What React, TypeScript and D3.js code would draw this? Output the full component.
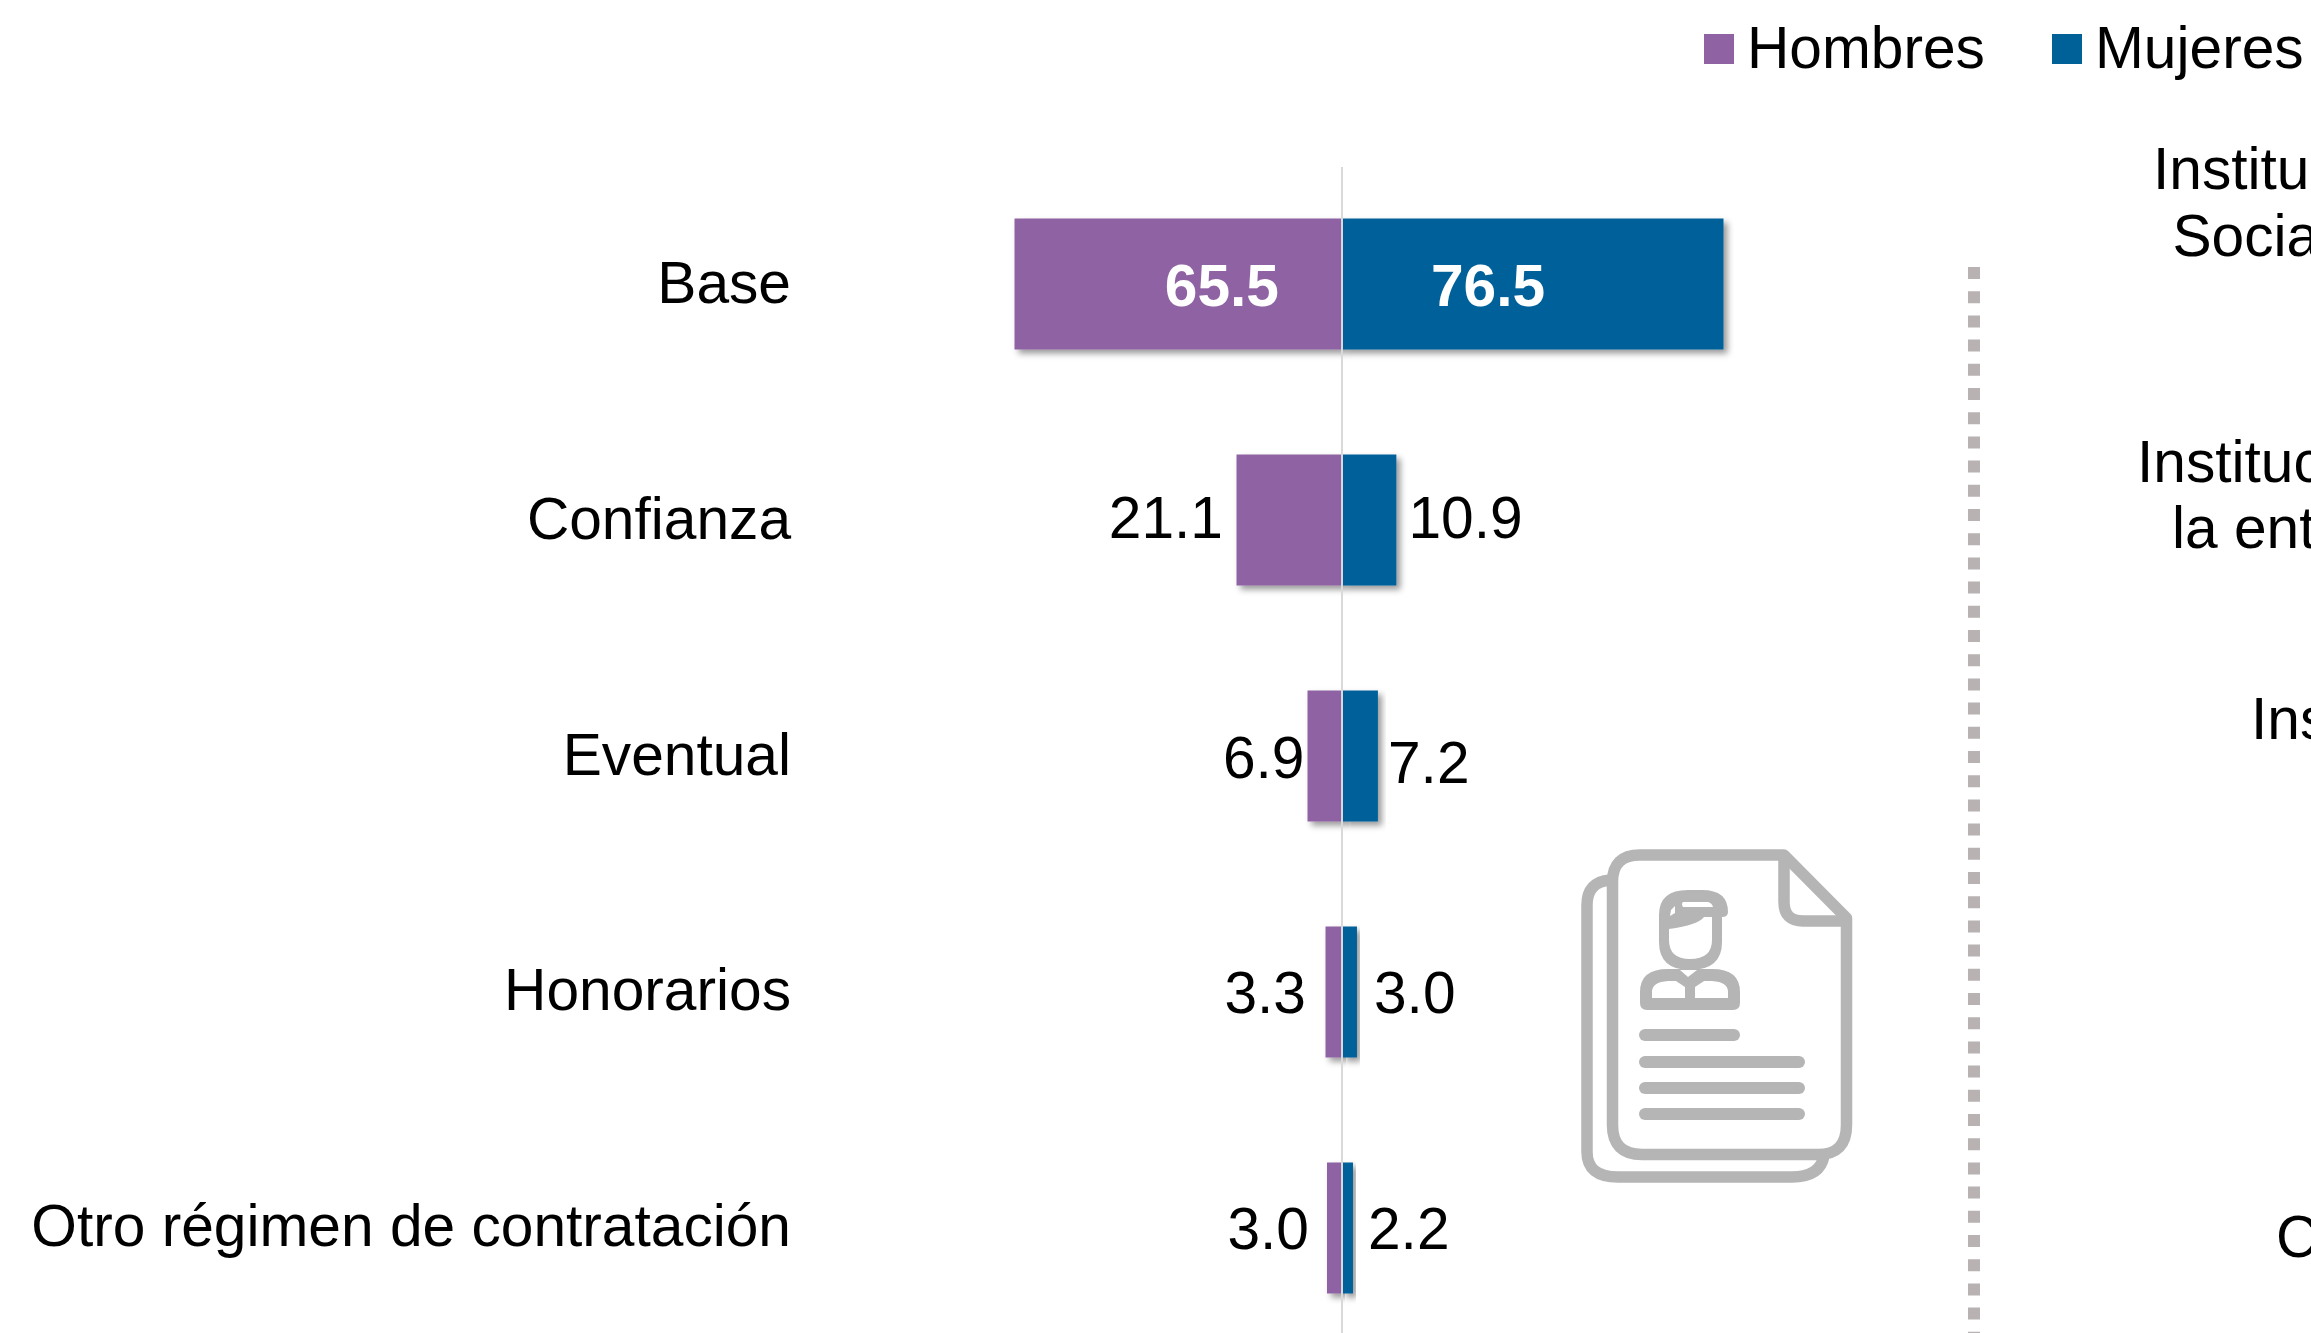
import React, { useEffect } from "react";
import * as d3 from "d3";

const categories = ["Base", "Confianza", "Eventual", "Honorarios", "Otro régimen de contratación"];
const hombres = [65.5, 21.1, 6.9, 3.3, 3.0];
const mujeres = [76.5, 10.9, 7.2, 3.0, 2.2];
const seriesNames = ["Hombres", "Mujeres"];
const seriesColors = ["#8f62a3", "#006199"];
const rightLines = [
  { t: "Institu", x: 2153, y: 189 },
  { t: "Socia", x: 2172.5, y: 256 },
  { t: "Instituc", x: 2137, y: 482 },
  { t: "la ent", x: 2172, y: 548 },
  { t: "Ins", x: 2251, y: 739 },
  { t: "C", x: 2276, y: 1257 },
];
// label anchors, hombres end x / mujeres start x, baseline
const hLabelEnd = [1279, 1223, 1304.5, 1306, 1309];
const mLabelStart = [1431, 1408.5, 1388, 1374, 1368];
const hBase = [306, 538, 778, 1013, 1249];
const mBase = [306, 538, 783, 1013, 1249];

const W = 2311, H = 1333;
const FONT = "'Liberation Sans', Arial, sans-serif";
const FS = 58.67;
const GREY = "#b5b5b5";

const x0 = 1342;
const xH = d3.scaleLinear().domain([0, 100]).range([x0, x0 - 500]);
const xM = d3.scaleLinear().domain([0, 100]).range([x0, x0 + 498.7]);
const y = d3.scaleBand().domain(categories).range([166, 1346]).paddingInner(0.4449).paddingOuter(0.2225);

function Icon() {
  return (
    <g>
      <g fill="none" stroke={GREY} strokeWidth={11.5} strokeLinecap="round" strokeLinejoin="round">
        <path d="M1612 880 H1610 Q1587 882 1587 905 V1152 Q1587 1177 1618 1177 H1792 Q1820 1177 1824 1156" />
        <path d="M1784 855 H1640 Q1612.5 855 1612.5 882 V1125 Q1612.5 1154.5 1642 1154.5 H1818 Q1846.5 1154.5 1846.5 1125 V918 L1784 855 Z" />
        <path d="M1784 857 V902 Q1784 921 1803 921 H1845" />
        <g strokeWidth={12}>
          <path d="M1645 1035 H1734" />
          <path d="M1645 1062 H1799" />
          <path d="M1645 1088 H1799" />
          <path d="M1645 1114 H1799" />
        </g>
      </g>
      <path
        fill={GREY}
        fillRule="evenodd"
        d="M1659 915 Q1659 890 1688 890 H1702 Q1728 890 1728 912 Q1728 917 1722 917 V942 Q1722 970 1690 970 Q1659 970 1659 942 Z
           M1683 902 H1708 Q1712 903 1713 907 H1683 Q1681 904 1683 902 Z
           M1671 910 L1675 906 L1675 913 L1670 916 Z
           M1669 929 Q1698 925 1704 917 H1712 V940 Q1712 959 1690 959 Q1669 959 1669 940 Z"
      />
      <path
        fill={GREY}
        fillRule="evenodd"
        d="M1640 1003 V992 Q1640 969 1668 969 H1712 Q1740 969 1740 992 V1003 Q1740 1010 1733 1010 H1647 Q1640 1010 1640 1003 Z
           M1652 998 V992 Q1652 982 1668 981 L1676 981 L1685 987 V998 Z
           M1695 998 V987 L1704 981 H1712 Q1728 982 1728 992 V998 Z"
      />
      <path fill="#fff" d="M1680 970 H1697 L1688 977 Z" />
    </g>
  );
}

export default function App() {
  useEffect(() => {
    document.body.style.margin = "0";
  }, []);
  return (
    <svg width={W} height={H} viewBox={`0 0 ${W} ${H}`} style={{ position: "absolute", left: 0, top: 0, display: "block", background: "#fff" }} fontFamily={FONT}>
      <defs>
        <filter id="sh" x="-20%" y="-20%" width="140%" height="140%" filterUnits="objectBoundingBox">
          <feDropShadow dx={4} dy={4} stdDeviation={3} floodColor="#000" floodOpacity={0.4} />
        </filter>
      </defs>

      {/* legend */}
      {seriesNames.map((n, i) => {
        const sx = [1704, 2052][i];
        return (
          <g key={n}>
            <rect x={sx} y={34} width={30} height={30} fill={seriesColors[i]} />
            <text x={sx + 43} y={67.5} fontSize={FS} fill="#000">{n}</text>
          </g>
        );
      })}

      {/* bars */}
      {categories.map((c, i) => (
        <g key={c}>
          <rect x={xH(hombres[i])} y={y(c)} width={x0 - xH(hombres[i])} height={y.bandwidth()} fill={seriesColors[0]} filter="url(#sh)" />
          <rect x={x0} y={y(c)} width={xM(mujeres[i]) - x0} height={y.bandwidth()} fill={seriesColors[1]} filter="url(#sh)" />
        </g>
      ))}

      {/* axis */}
      <line x1={x0} x2={x0} y1={167} y2={H} stroke="#d9d9d9" strokeWidth={2} />

      {/* category labels and values */}
      {categories.map((c, i) => {
        const inside = i === 0;
        return (
          <g key={c}>
            <text x={791} y={y(c)! + y.bandwidth() / 2 + 18.5} fontSize={FS} textAnchor="end" fill="#000">{c}</text>
            <text x={hLabelEnd[i]} y={hBase[i]} fontSize={FS} textAnchor="end" fontWeight={inside ? 700 : 400} fill={inside ? "#fff" : "#000"}>{hombres[i].toFixed(1)}</text>
            <text x={mLabelStart[i]} y={mBase[i]} fontSize={FS} fontWeight={inside ? 700 : 400} fill={inside ? "#fff" : "#000"}>{mujeres[i].toFixed(1)}</text>
          </g>
        );
      })}

      {/* divider */}
      <line x1={1974} x2={1974} y1={267} y2={H} stroke="#b8b2b3" strokeWidth={12} strokeDasharray="12 12.2" />

      <Icon />

      {rightLines.map((l) => (
        <text key={l.t} x={l.x} y={l.y} fontSize={FS} fill="#000">{l.t}</text>
      ))}
    </svg>
  );
}
